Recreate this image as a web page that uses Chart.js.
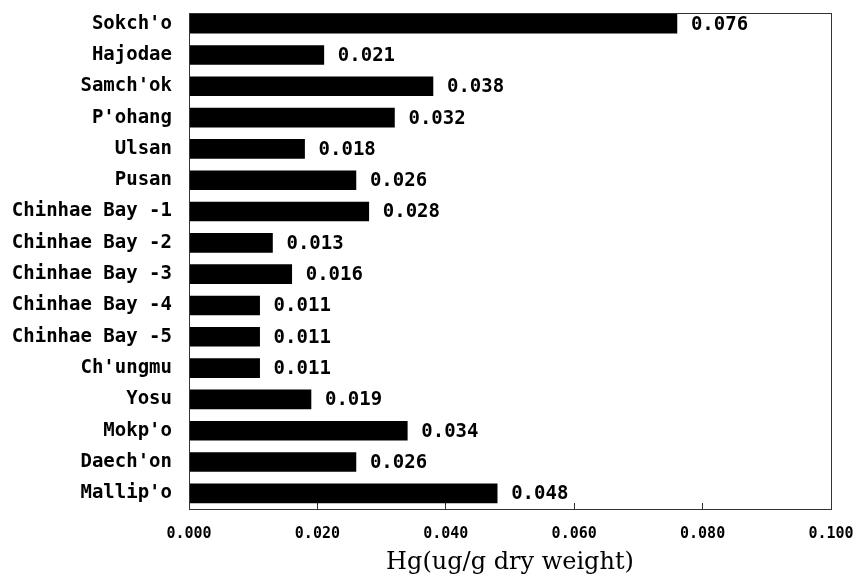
<!DOCTYPE html>
<html>
<head>
<meta charset="utf-8">
<script src="https://cdn.jsdelivr.net/npm/chart.js@4"></script>
<style>
  html, body { margin: 0; padding: 0; background: #fff; }
  #wrap { width: 860px; height: 581px; }
</style>
</head>
<body>
<div id="wrap"><canvas id="hgChart" width="860" height="581"></canvas></div>
<script>
// stations, top to bottom
const stations = ['Sokch\'o', 'Hajodae', 'Samch\'ok', 'P\'ohang', 'Ulsan', 'Pusan',
    'Chinhae Bay -1', 'Chinhae Bay -2', 'Chinhae Bay -3', 'Chinhae Bay -4', 'Chinhae Bay -5',
    'Ch\'ungmu', 'Yosu', 'Mokp\'o', 'Daech\'on', 'Mallip\'o'];
const hgValues = [0.076, 0.021, 0.038, 0.032, 0.018, 0.026, 0.028, 0.013, 0.016, 0.011, 0.011,
    0.011, 0.019, 0.034, 0.026, 0.048];
const xTicks = [0, 0.02, 0.04, 0.06, 0.08, 0.1];

const labelFont = { family: 'DejaVu Sans Mono', size: 19, weight: 'bold' };

// value labels right of each bar + box round the plot
const extras = {
    id: 'extras',
    afterDatasetsDraw(chart) {
        const ctx = chart.ctx;
        const meta = chart.getDatasetMeta(0);
        ctx.save();
        ctx.fillStyle = '#000';
        ctx.font = 'bold 19px "DejaVu Sans Mono"';
        ctx.textBaseline = 'middle';
        ctx.textAlign = 'left';
        meta.data.forEach((bar, i) => {
            ctx.fillText(hgValues[i].toFixed(3), bar.x + 14, bar.y + 1);
        });
        const a = chart.chartArea;
        ctx.strokeStyle = '#333';
        ctx.lineWidth = 1;
        ctx.strokeRect(a.left + 0.5, a.top + 5.5, a.right - a.left, a.bottom - a.top - 5);
        ctx.restore();
    }
};

const ctx = document.getElementById('hgChart').getContext('2d');
const hgChart = new Chart(ctx, {
    type: 'bar',
    data: {
        labels: stations,
        datasets: [{
            data: hgValues,
            backgroundColor: '#000',
            borderWidth: 0,
            barThickness: 19
        }]
    },
    options: {
        indexAxis: 'y',
        responsive: false,
        animation: false,
        layout: { padding: { top: 8, right: 29, left: 0, bottom: 0 } },
        plugins: {
            legend: { display: false },
            tooltip: { enabled: false }
        },
        scales: {
            x: {
                type: 'linear',
                min: 0,
                max: 0.1,
                afterBuildTicks(scale) {
                    scale.ticks = xTicks.map(v => ({ value: v }));
                },
                afterFit(scale) {
                    scale.height = 72;
                    scale.paddingLeft = 0;
                    scale.paddingRight = 0;
                },
                grid: { drawOnChartArea: false, drawTicks: true, tickLength: -6, color: '#333' },
                border: { display: false },
                ticks: {
                    color: '#000',
                    padding: 22,
                    maxRotation: 0,
                    font: { family: 'DejaVu Sans Mono', size: 15, weight: 'bold' },
                    callback: v => v.toFixed(3)
                },
                title: {
                    display: true,
                    text: 'Hg(ug/g dry weight)',
                    color: '#000',
                    padding: { top: 0 },
                    font: { family: 'DejaVu Serif', size: 24 }
                }
            },
            y: {
                afterFit(scale) {
                    scale.width = 189;
                    scale.paddingTop = 0;
                    scale.paddingBottom = 0;
                },
                grid: { display: false },
                border: { display: false },
                ticks: {
                    color: '#000',
                    padding: 9,
                    font: labelFont
                }
            }
        }
    },
    plugins: [extras]
});
</script>
</body>
</html>
